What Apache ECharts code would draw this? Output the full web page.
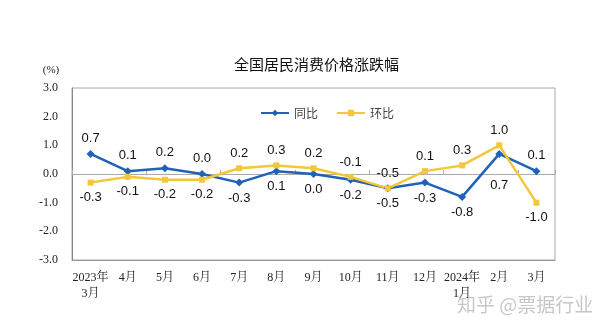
<!DOCTYPE html>
<html><head><meta charset="utf-8">
<script src="https://cdn.jsdelivr.net/npm/echarts@6/dist/echarts.min.js"></script>
<style>html,body{margin:0;padding:0;background:#fff}#c{width:600px;height:333px}</style>
</head><body><div id="c"></div>
<script>
const categories = ['2023年\n3月','4月','5月','6月','7月','8月','9月','10月','11月','12月','2024年\n1月','2月','3月'];
const yoy = [0.7,0.1,0.2,0.0,-0.3,0.1,0.0,-0.2,-0.5,-0.3,-0.8,0.7,0.1];
const mom = [-0.3,-0.1,-0.2,-0.2,0.2,0.3,0.2,-0.1,-0.5,0.1,0.3,1.0,-1.0];
const yTicks = [-3,-2,-1,0,1,2,3];

const blue = '#1F62B8', yellow = '#F3C73A';
const labelFont = {fontFamily:'Liberation Sans, Arial, sans-serif', fontSize:13, color:'#111'};
// labels go below when the other series' line passes close underneath
const yoyData = yoy.map((v,i)=>{
  const below = !(v > mom[i]);
  const crowded = below && (mom[i] - v) > 0.2 && i < yoy.length-1 && mom[i+1] < v;
  return {value:v, label:{position: below ? 'bottom' : 'top', distance: crowded ? 21 : 5}};
});
const momData = mom.map((v,i)=>({value:v, label:{position: v >= yoy[i] ? 'top' : 'bottom'}}));

const chart = echarts.init(document.getElementById('c'), null, {renderer:'canvas'});
chart.setOption({
  animation:false,
  backgroundColor:'#fff',
  title:{text:'全国居民消费价格涨跌幅', left:229, top:52,
    textStyle:{fontFamily:'Noto Sans CJK SC', fontSize:15, fontWeight:'normal', color:'#111'}},
  legend:{left:255, top:102, itemWidth:28, itemHeight:8, itemGap:18,
    textStyle:{fontFamily:'Noto Sans CJK SC', fontSize:12, color:'#444'},
    data:['同比','环比']},
  grid:{left:72, right:45, top:88, bottom:73, show:true, borderColor:'#a8a8a8', borderWidth:1},
  xAxis:[{
    type:'category', data:categories, boundaryGap:true, position:'bottom',
    axisLine:{onZero:false, lineStyle:{color:'#999'}}, axisTick:{show:false},
    axisLabel:{interval:0, margin:10, fontFamily:'Liberation Serif, Noto Serif CJK SC, Noto Sans CJK SC', fontSize:12, color:'#222', lineHeight:16}
  },{
    type:'category', data:categories, boundaryGap:true, position:'bottom',
    axisLine:{onZero:true, lineStyle:{color:'#aaa'}},
    axisTick:{show:true, inside:true, length:4, lineStyle:{color:'#aaa'}},
    axisLabel:{show:false}
  }],
  yAxis:{type:'value', min:yTicks[0], max:yTicks[yTicks.length-1], interval:1,
    name:'(%)', nameLocation:'end', nameGap:12, nameTextStyle:{fontFamily:'Liberation Serif', fontSize:11, color:'#222', padding:[0,42,0,0]},
    axisLine:{show:true, lineStyle:{color:'#888'}}, axisTick:{show:false}, splitLine:{show:false},
    axisLabel:{margin:14, formatter:v=>v.toFixed(1), fontFamily:'Liberation Serif', fontSize:12, color:'#222'}},
  series:[{
    name:'同比', type:'line', data:yoyData, symbol:'diamond', symbolSize:8,
    lineStyle:{color:blue, width:2.5}, itemStyle:{color:blue},
    label:{show:true, distance:5, formatter:p=>p.value.toFixed(1), ...labelFont}
  },{
    name:'环比', type:'line', data:momData, symbol:'rect', symbolSize:6,
    lineStyle:{color:yellow, width:2.5}, itemStyle:{color:yellow},
    label:{show:true, distance:5, formatter:p=>p.value.toFixed(1), ...labelFont}
  }],
  graphic:[{type:'text', left:457, top:295,
    style:{text:'知乎 @票据行业', fontFamily:'Noto Sans CJK SC', fontSize:19, fill:'rgba(175,175,175,0.7)'}}]
});
</script></body></html>
